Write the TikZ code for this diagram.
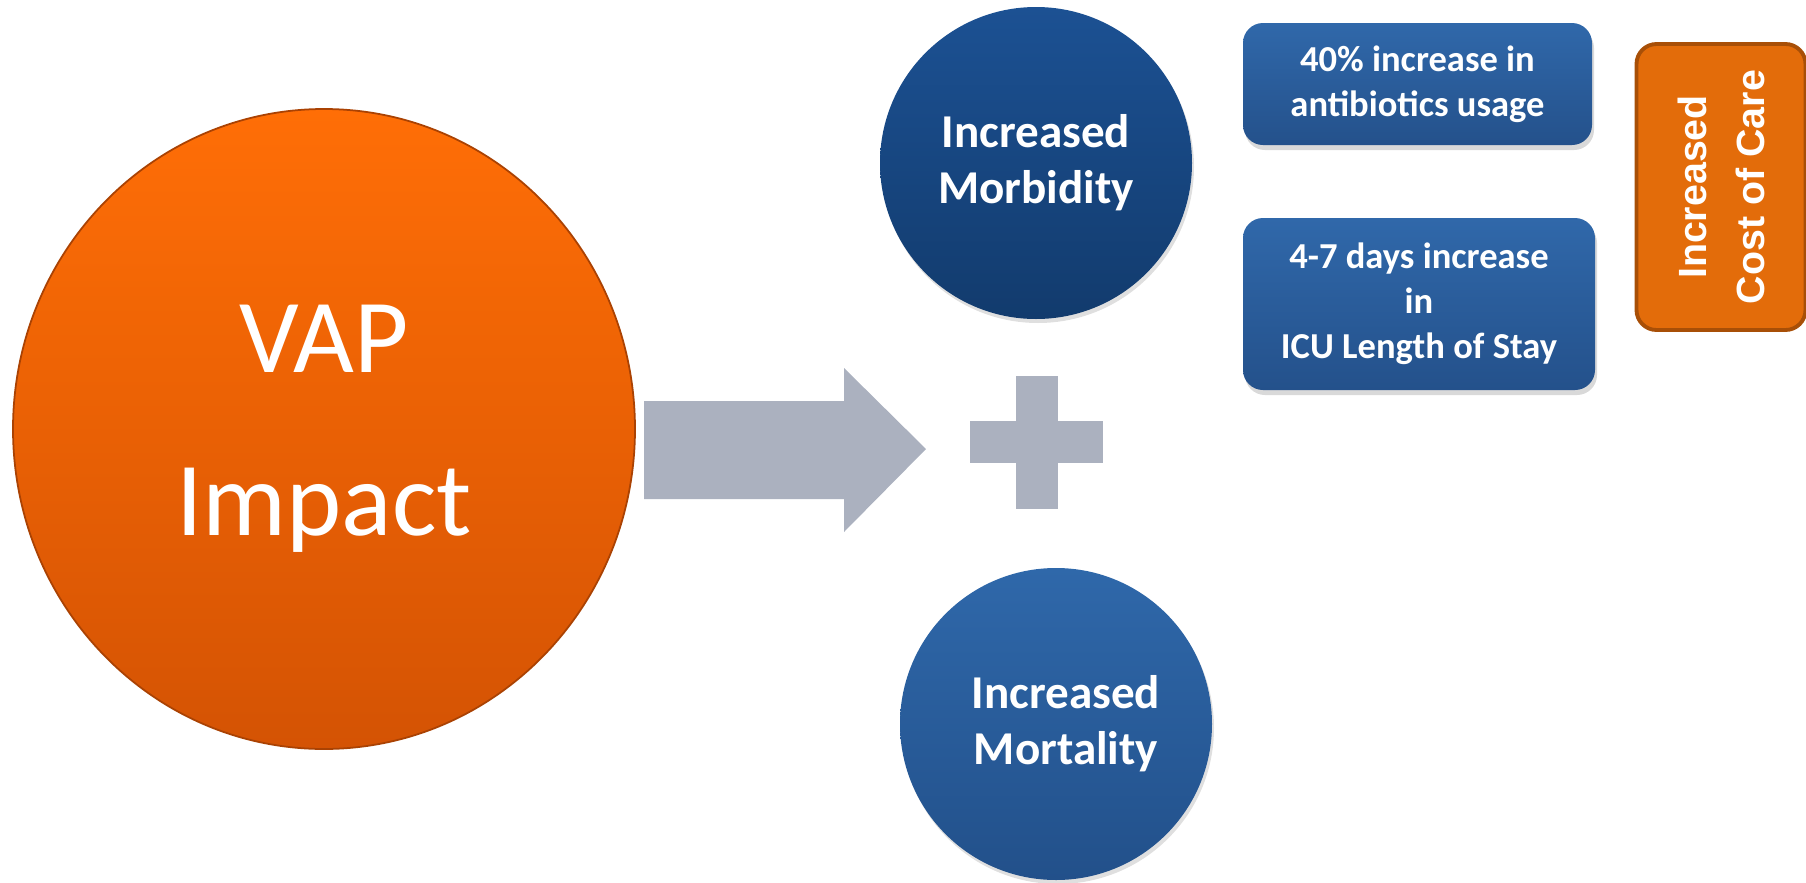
\documentclass[tikz,border=0pt]{standalone}
\usepackage{fontspec}
\setmainfont{Carlito}
\newfontfamily\costfont{Liberation Sans}
\usetikzlibrary{shapes.geometric,shadows}
\definecolor{vaptop}{HTML}{FF6E06}
\definecolor{vapbot}{HTML}{D45304}
\definecolor{morbtop}{HTML}{1C5193}
\definecolor{morbbot}{HTML}{123B6D}
\definecolor{morttop}{HTML}{2F68AA}
\definecolor{mortbot}{HTML}{22508A}
\definecolor{boxtop}{HTML}{3068AA}
\definecolor{boxbot}{HTML}{24518B}
\definecolor{costfill}{HTML}{E36C0A}
\definecolor{costline}{HTML}{A84F07}
\definecolor{arrowgray}{HTML}{ABB1BF}
\begin{document}
\begin{tikzpicture}[
  bigcirc/.style={ellipse, inner sep=0pt, minimum width=6.22cm, minimum height=6.40cm,
    draw=vapbot!80!black, line width=0.5pt, top color=vaptop, bottom color=vapbot,
    text=white, align=center, font=\fontsize{29.9}{46.5}\selectfont},
  effect/.style={circle, inner sep=0pt, minimum size=3.12cm, text=white, align=center,
    font=\fontsize{13.4}{16}\selectfont\bfseries,
    drop shadow={opacity=0.25, shadow xshift=0.02cm, shadow yshift=-0.04cm}},
  factbox/.style={rectangle, rounded corners=0.2cm, inner sep=0pt, text=white, align=center,
    top color=boxtop, bottom color=boxbot, font=\fontsize{10.4}{12.8}\selectfont\bfseries,
    drop shadow={opacity=0.3, shadow xshift=0.02cm, shadow yshift=-0.05cm}},
  grayfill/.style={fill=arrowgray, draw=none}
]
\useasboundingbox (0,0) rectangle (18.06,8.82);
% big circle
\node[bigcirc] (vap) at (3.24,4.53) {VAP\\Impact};
% block arrow and plus sign
\fill[grayfill] (6.44,4.81) -- (8.44,4.81) -- (8.44,5.14) -- (9.26,4.33)
  -- (8.44,3.50) -- (8.44,3.83) -- (6.44,3.83) -- cycle;
\fill[grayfill] (9.70,4.19) rectangle (11.03,4.61);
\fill[grayfill] (10.16,3.73) rectangle (10.58,5.06);
% the two outcomes
\node[effect, top color=morbtop, bottom color=morbbot] (morb) at (10.36,7.19) {Increased\\Morbidity};
\node[effect, top color=morttop, bottom color=mortbot] (mort) at (10.56,1.58) {\hspace*{0.2cm}Increased\\\hspace*{0.2cm}Mortality};
% facts
\node[factbox, minimum width=3.49cm, minimum height=1.22cm] (abx) at (14.175,7.98)
  {40\% increase in\\antibiotics usage};
\node[factbox, minimum width=3.52cm, minimum height=1.72cm] (los) at (14.19,5.78)
  {4-7 days increase\\in\\ICU Length of Stay};
% cost
\node[rectangle, rounded corners=0.2cm, rotate=90, minimum width=2.86cm, minimum height=1.69cm,
  fill=costfill, draw=costline, line width=1.1pt, text=white, align=center,
  font=\costfont\fontsize{11.2}{16.5}\selectfont\bfseries] (cost) at (17.21,6.95)
  {Increased\\Cost of Care};
\end{tikzpicture}
\end{document}
